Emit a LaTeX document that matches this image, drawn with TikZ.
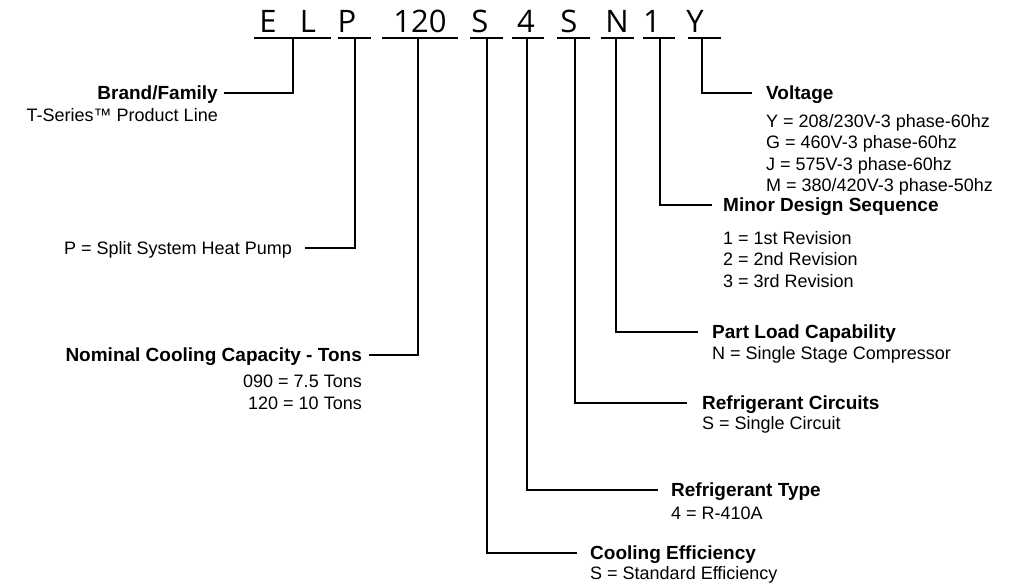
\documentclass[tikz,border=0pt]{standalone}
\usepackage{fontspec}
\setmainfont{Liberation Sans}
\newfontfamily\codefont{Open Sans}
\usetikzlibrary{positioning}

\begin{document}
\begin{tikzpicture}[x=1pt, y=-1pt,
    code/.style={font=\codefont\fontsize{31}{31}\selectfont, inner sep=0pt, anchor=base},
    title/.style={font=\bfseries\fontsize{19}{21.5}\selectfont, inner sep=0pt, text height=13.6pt, text depth=0pt},
    desc/.style={font=\fontsize{18}{21.5}\selectfont, inner sep=0pt},
    bar/.style={line width=2.6pt},
    lead/.style={line width=2.6pt},
]

% Page frame
\fill[white] (0,0) rectangle (1023,587);
\useasboundingbox (0,0) rectangle (1023,587);

% Model number characters
\node[code] (cE) at (268,32) {E};
\node[code] (cL) at (308,32) {L};
\node[code] (cP) at (347,32) {P};
\node[code] (cCap) at (420,32) {120};
\node[code] (cEff) at (480,32) {S};
\node[code] (cRef) at (526,32) {4};
\node[code] (cCirc) at (569,32) {S};
\node[code] (cLoad) at (617,32) {N};
\node[code] (cMinor) at (652,32) {1};
\node[code] (cVolt) at (695,32) {Y};

% Underline stems
\coordinate (uBrand) at (293,38);
\coordinate (uP) at (355,38);
\coordinate (uCap) at (418,38);
\coordinate (uEff) at (487,38);
\coordinate (uRef) at (527,38);
\coordinate (uCirc) at (575,38);
\coordinate (uLoad) at (616,38);
\coordinate (uMinor) at (660,38);
\coordinate (uVolt) at (702,38);

% Underlines
\draw[bar] ([xshift=-39pt]uBrand) -- ([xshift=38pt]uBrand);
\draw[bar] ([xshift=-17pt]uP) -- ([xshift=16pt]uP);
\draw[bar] ([xshift=-36pt]uCap) -- ([xshift=40pt]uCap);
\draw[bar] ([xshift=-17pt]uEff) -- ([xshift=16pt]uEff);
\draw[bar] ([xshift=-15pt]uRef) -- ([xshift=17pt]uRef);
\draw[bar] ([xshift=-18pt]uCirc) -- ([xshift=15pt]uCirc);
\draw[bar] ([xshift=-15pt]uLoad) -- ([xshift=18pt]uLoad);
\draw[bar] ([xshift=-17pt]uMinor) -- ([xshift=15pt]uMinor);
\draw[bar] ([xshift=-14pt]uVolt) -- ([xshift=19pt]uVolt);

% Left side labels
\node[title, anchor=east] (brand) at (218,93) {Brand/Family};
\node[desc, anchor=base east] (brandd) at ([yshift=-22pt]brand.base east) {T-Series™ Product Line};

\node[desc, anchor=east, text height=12.9pt, text depth=0pt] (pump) at (292,248) {P = Split System Heat Pump};

\node[title, anchor=east] (cap) at (362,355) {Nominal Cooling Capacity - Tons};
\node[desc, anchor=north east, align=right] (capd) at ([yshift=-13pt]cap.south east) {090 = 7.5 Tons\\120 = 10 Tons};

% Right side labels
\node[title, anchor=west] (eff) at (590,553) {Cooling Efficiency};
\node[desc, anchor=base west] (effd) at ([yshift=-20pt]eff.base west) {S = Standard Efficiency};

\node[title, anchor=west] (ref) at (671,490) {Refrigerant Type};
\node[desc, anchor=base west] (refd) at ([yshift=-23pt]ref.base west) {4 = R-410A};

\node[title, anchor=west] (circ) at (702,403) {Refrigerant Circuits};
\node[desc, anchor=base west] (circd) at ([yshift=-20pt]circ.base west) {S = Single Circuit};

\node[title, anchor=west] (load) at (712,332) {Part Load Capability};
\node[desc, anchor=base west] (loadd) at ([yshift=-21pt]load.base west) {N = Single Stage Compressor};

\node[title, anchor=west] (minor) at (723,205) {Minor Design Sequence};
\node[desc, anchor=north west, align=left] (minord) at ([yshift=-19pt]minor.south west) {1 = 1st Revision\\2 = 2nd Revision\\3 = 3rd Revision};

\node[title, anchor=west] (volt) at (766,93) {Voltage};
\node[desc, anchor=north west, align=left] (voltd) at ([yshift=-14pt]volt.south west) {Y = 208/230V-3 phase-60hz\\G = 460V-3 phase-60hz\\J = 575V-3 phase-60hz\\M = 380/420V-3 phase-50hz};

% Leaders
\draw[lead] (uBrand) |- ([xshift=6pt]brand.east);
\draw[lead] (uP) |- ([xshift=13pt]pump.east);
\draw[lead] (uCap) |- ([xshift=7pt]cap.east);
\draw[lead] (uEff) |- ([xshift=-13pt]eff.west);
\draw[lead] (uRef) |- ([xshift=-13pt]ref.west);
\draw[lead] (uCirc) |- ([xshift=-15pt]circ.west);
\draw[lead] (uLoad) |- ([xshift=-14pt]load.west);
\draw[lead] (uMinor) |- ([xshift=-11pt]minor.west);
\draw[lead] (uVolt) |- ([xshift=-14pt]volt.west);

\end{tikzpicture}
\end{document}
